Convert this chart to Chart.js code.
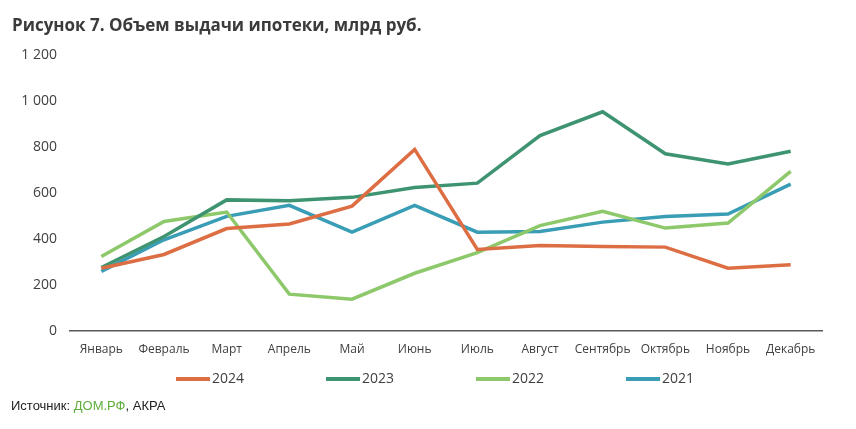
<!DOCTYPE html>
<html>
<head>
<meta charset="utf-8">
<script src="https://cdn.jsdelivr.net/npm/chart.js@4/dist/chart.umd.min.js"></script>
<style>
  html, body { margin: 0; padding: 0; background: #fff; }
  #wrap { position: relative; width: 856px; height: 429px; }
  #c { position: absolute; left: 0; top: 0; }
  #src { position: absolute; left: 11px; top: 398px; font-family: "Liberation Sans Narrow", "Liberation Sans", sans-serif; font-size: 13px; color: #222; }
  #src span { color: #5fae3a; }
</style>
</head>
<body>
<div id="wrap">
  <canvas id="c" width="856" height="429"></canvas>
  <div id="src">Источник: <span>ДОМ.РФ</span>, АКРА</div>
</div>
<script>
const months = ["Январь","Февраль","Март","Апрель","Май","Июнь","Июль","Август","Сентябрь","Октябрь","Ноябрь","Декабрь"];
const y2024 = [272, 332, 445, 465, 543, 790, 354, 371, 367, 364, 272, 287];
const y2023 = [275, 410, 570, 566, 581, 624, 643, 850, 954, 771, 727, 782];
const y2022 = [323, 476, 517, 159, 137, 250, 340, 458, 520, 447, 469, 694];
const y2021 = [258, 396, 498, 546, 429, 546, 429, 432, 473, 498, 508, 639];
const yTicks = [0, 200, 400, 600, 800, 1000, 1200];
const titleText = "Рисунок 7. Объем выдачи ипотеки, млрд руб.";

const colors = { y2024: "#dd6e44", y2023: "#3e9470", y2022: "#8dc86a", y2021: "#3a9db6" };

function ds(label, data, color) {
  return { label, data, borderColor: color, backgroundColor: color, borderWidth: 3.5,
           pointRadius: 0, pointHoverRadius: 0, tension: 0, fill: false };
}

// legend drawn below the x axis, spaced like the reference
const spacedLegend = {
  id: "spacedLegend",
  afterDraw(chart) {
    const ctx = chart.ctx;
    const startX = 176, step = 150, y = 379, lineW = 34;
    ctx.save();
    ctx.font = "14px 'Open Sans'";
    ctx.textBaseline = "middle";
    ctx.textAlign = "left";
    chart.data.datasets.forEach((d, i) => {
      const x = startX + i * step;
      ctx.strokeStyle = d.borderColor;
      ctx.lineWidth = 4;
      ctx.lineCap = "butt";
      ctx.beginPath();
      ctx.moveTo(x, y);
      ctx.lineTo(x + lineW, y);
      ctx.stroke();
      ctx.fillStyle = "#404040";
      ctx.fillText(d.label, x + lineW + 2, y);
    });
    ctx.restore();
  }
};

new Chart(document.getElementById("c"), {
  type: "line",
  data: {
    labels: months,
    datasets: [
      ds("2024", y2024, colors.y2024),
      ds("2023", y2023, colors.y2023),
      ds("2022", y2022, colors.y2022),
      ds("2021", y2021, colors.y2021)
    ]
  },
  plugins: [spacedLegend],
  options: {
    responsive: false,
    animation: false,
    devicePixelRatio: 1,
    layout: { padding: { left: 12, right: 34, top: 6, bottom: 60 } },
    plugins: {
      title: {
        display: true, text: titleText, align: "start", color: "#3b3b3b",
        font: { family: "Open Sans", size: 17, weight: "bold" },
        padding: { top: 10, bottom: 19 }
      },
      legend: { display: false },
      tooltip: { enabled: false }
    },
    scales: {
      x: {
        offset: true,
        grid: { display: false, drawTicks: false },
        border: { display: true, color: "#595959", width: 1.5 },
        ticks: { color: "#404040", font: { family: "Open Sans", size: 12 }, padding: 12, maxRotation: 0, autoSkip: false }
      },
      y: {
        min: 0, max: 1200,
        afterBuildTicks: (s) => { s.ticks = yTicks.map(v => ({ value: v })); },
        afterFit: (s) => { s.width = 58; },
        grid: { display: false, drawTicks: false },
        border: { display: false },
        ticks: {
          color: "#404040", font: { family: "Open Sans", size: 14 }, padding: 13,
          callback: (v) => String(v).replace(/\B(?=(\d{3})+(?!\d))/g, " ")
        }
      }
    }
  }
});
</script>
</body>
</html>
